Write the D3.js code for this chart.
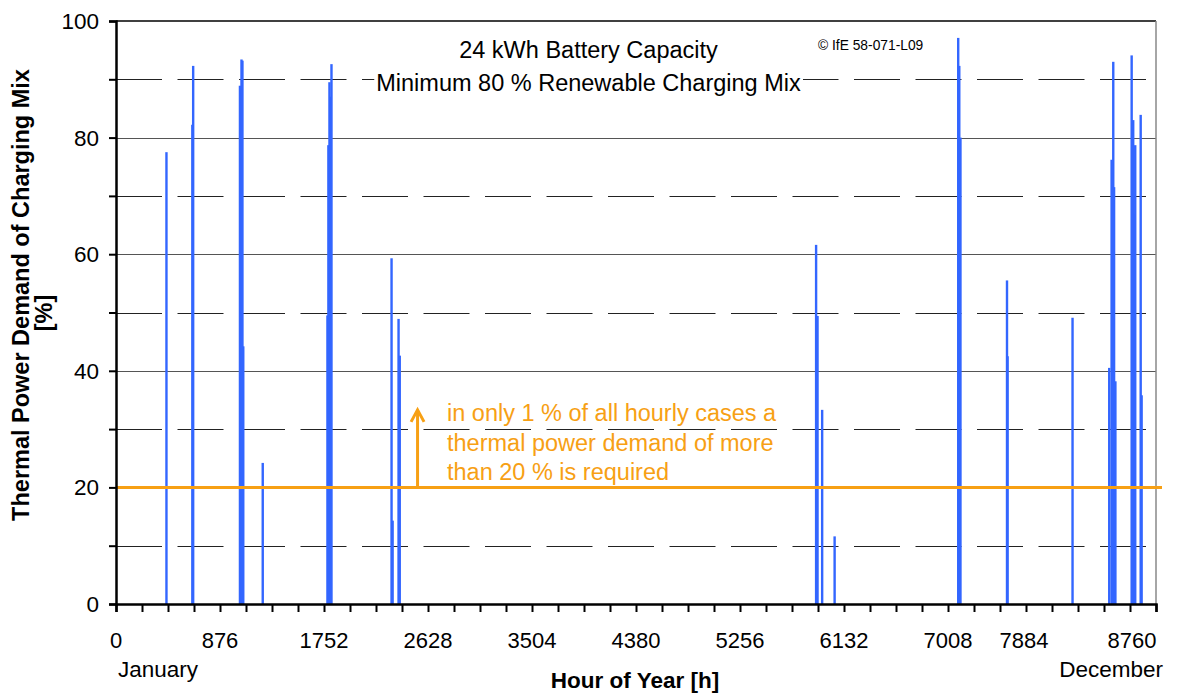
<!DOCTYPE html>
<html>
<head>
<meta charset="utf-8">
<script src="https://cdn.jsdelivr.net/npm/d3@7/dist/d3.min.js"></script>
<style>
  html, body { margin: 0; padding: 0; background: #fff; }
  svg { display: block; font-family: "Liberation Sans", Arial, Helvetica, sans-serif; }
</style>
</head>
<body>
<svg id="chart" width="1190" height="693"></svg>
<script>
// Hour of year at which a thermal share of the charging mix occurs, and that share [%]
const hours = [425, 643, 650, 1044, 1057, 1065, 1072, 1236,
  1781, 1789, 1798, 1806, 1815, 2321, 2330, 2380, 2390,
  5897, 5909, 5948, 6053, 7094, 7103, 7113, 7505, 7510, 8057,
  8366, 8386, 8400, 8407, 8418, 8555, 8568, 8577, 8585, 8631, 8639];
const values = [77.5, 82.2, 92.3, 88.9, 93.4, 93.2, 44.2, 24.2,
  49.5, 78.7, 89.5, 87.0, 92.6, 59.3, 14.3, 48.9, 42.6,
  61.6, 49.4, 33.3, 11.6, 97.1, 92.3, 80.0, 55.5, 42.5, 49.1,
  40.5, 76.2, 93.0, 71.5, 38.2, 94.1, 83.0, 66.9, 78.7, 83.9, 35.8];

const xTickValues = [0, 876, 1752, 2628, 3504, 4380, 5256, 6132, 7008, 7884, 8760];
const yTickLabels = [0, 20, 40, 60, 80, 100];
const threshold = 20;
const titleLines = ["24 kWh Battery Capacity", "Minimum 80 % Renewable Charging Mix"];
const noteLines = ["in only 1 % of all hourly cases a", "thermal power demand of more", "than 20 % is required"];

const svg = d3.select("#chart");
const x = d3.scaleLinear().domain([0, 8760]).range([116, 1156]);
const y = d3.scaleLinear().domain([0, 100]).range([604, 21]);
const orange = "#F7A014";

// horizontal grid: dashed at odd tens, solid at even tens
const gridVals = d3.range(10, 100, 10);
svg.append("g").selectAll("line").data(gridVals).join("line")
  .attr("x1", x(0)).attr("x2", x(8760))
  .attr("y1", d => Math.round(y(d)) + 0.5).attr("y2", d => Math.round(y(d)) + 0.5)
  .attr("stroke", d => (d / 10) % 2 ? "#222" : "#555")
  .attr("stroke-width", 1)
  .attr("stroke-dasharray", d => (d / 10) % 2 ? "46,15.5" : null);

// plot frame: top black, right grey
svg.append("line").attr("x1", x(0)).attr("x2", x(8760)).attr("y1", y(100)).attr("y2", y(100))
  .attr("stroke", "#000").attr("stroke-width", 1.5);
svg.append("line").attr("x1", x(8760)).attr("x2", x(8760)).attr("y1", y(100)).attr("y2", y(0))
  .attr("stroke", "#888").attr("stroke-width", 1.5);

// hourly bars
svg.append("g").selectAll("rect").data(hours).join("rect")
  .attr("x", (d) => x(d) - 1.2)
  .attr("width", 2.4)
  .attr("y", (d, i) => y(values[i]))
  .attr("height", (d, i) => y(0) - y(values[i]))
  .attr("fill", "#3366FF");

// 20 % threshold line
svg.append("line").attr("x1", x(0)).attr("x2", x(8760) + 6)
  .attr("y1", y(threshold)).attr("y2", y(threshold))
  .attr("stroke", orange).attr("stroke-width", 3);

// arrow above threshold
const ax = x(2540);
svg.append("line").attr("x1", ax).attr("x2", ax)
  .attr("y1", y(threshold)).attr("y2", y(33.3))
  .attr("stroke", orange).attr("stroke-width", 3);
svg.append("path")
  .attr("d", `M${ax - 6.5},${y(33.3) + 12} L${ax},${y(33.3)} L${ax + 6.5},${y(33.3) + 12}`)
  .attr("fill", "none").attr("stroke", orange).attr("stroke-width", 3)
  .attr("stroke-linejoin", "miter");

// note text
svg.append("text").attr("x", 447).attr("y", 421)
  .attr("fill", orange).attr("font-size", 23.5)
  .selectAll("tspan").data(noteLines).join("tspan")
  .attr("x", 447).attr("dy", (d, i) => i ? 29.5 : 0).text(d => d);

// title block with white backing
const tg = svg.append("g");
const tt = tg.append("text").attr("text-anchor", "middle").attr("font-size", 23.5).attr("fill", "#000");
tt.selectAll("tspan").data(titleLines).join("tspan")
  .attr("x", 588.5).attr("y", (d, i) => 58 + i * 33).text(d => d);
const bb = tt.node().getBBox();
tg.insert("rect", "text").attr("x", bb.x - 2).attr("y", bb.y - 2)
  .attr("width", bb.width + 4).attr("height", bb.height + 4).attr("fill", "#fff");

svg.append("text").attr("x", 818).attr("y", 50).attr("font-size", 13.8).attr("fill", "#000")
  .text("\u00A9 IfE 58-071-L09");

// axes
const xAxis = d3.axisBottom(x).tickValues(d3.range(0, 8761, 219)).tickSize(8).tickFormat("");
const gx = svg.append("g").attr("transform", `translate(0,${y(0)})`).call(xAxis);
gx.select(".domain").attr("stroke", "#000").attr("stroke-width", 2.5);
gx.selectAll(".tick line").attr("stroke", "#000").attr("stroke-width", 2);

// the last two hour labels are pulled left so they stay clear of the month caption
const labelX = d => x(d) - (d >= 7884 ? (d === 8760 ? 24 : 28) : 0);
svg.append("g").selectAll("text").data(xTickValues).join("text")
  .attr("x", labelX).attr("y", 648)
  .attr("text-anchor", "middle").attr("font-size", 22).attr("fill", "#000")
  .text(d => d);

const yAxis = d3.axisLeft(y).tickValues(d3.range(0, 101, 10)).tickSize(7).tickFormat("");
const gy = svg.append("g").attr("transform", `translate(${x(0)},0)`).call(yAxis);
gy.select(".domain").attr("stroke", "#000").attr("stroke-width", 2.5);
gy.selectAll(".tick line").attr("stroke", "#000").attr("stroke-width", 2);

svg.append("g").selectAll("text").data(yTickLabels).join("text")
  .attr("x", 99).attr("y", d => y(d) + 8)
  .attr("text-anchor", "end").attr("font-size", 22.5).attr("fill", "#000")
  .text(d => d);

svg.append("text").attr("x", 118).attr("y", 677).attr("font-size", 22.5).text("January");
svg.append("text").attr("x", 1163).attr("y", 677).attr("font-size", 22.5)
  .attr("text-anchor", "end").text("December");

// axis titles
svg.append("text").attr("x", 635).attr("y", 688).attr("text-anchor", "middle")
  .attr("font-size", 22.5).attr("font-weight", "bold").text("Hour of Year [h]");
const yt = svg.append("text").attr("transform", "rotate(-90)")
  .attr("text-anchor", "middle").attr("font-size", 23.5).attr("font-weight", "bold");
yt.append("tspan").attr("x", -295).attr("y", 28.5).text("Thermal Power Demand of Charging Mix");
yt.append("tspan").attr("x", -313).attr("y", 52).text("[%]");
</script>
</body>
</html>
